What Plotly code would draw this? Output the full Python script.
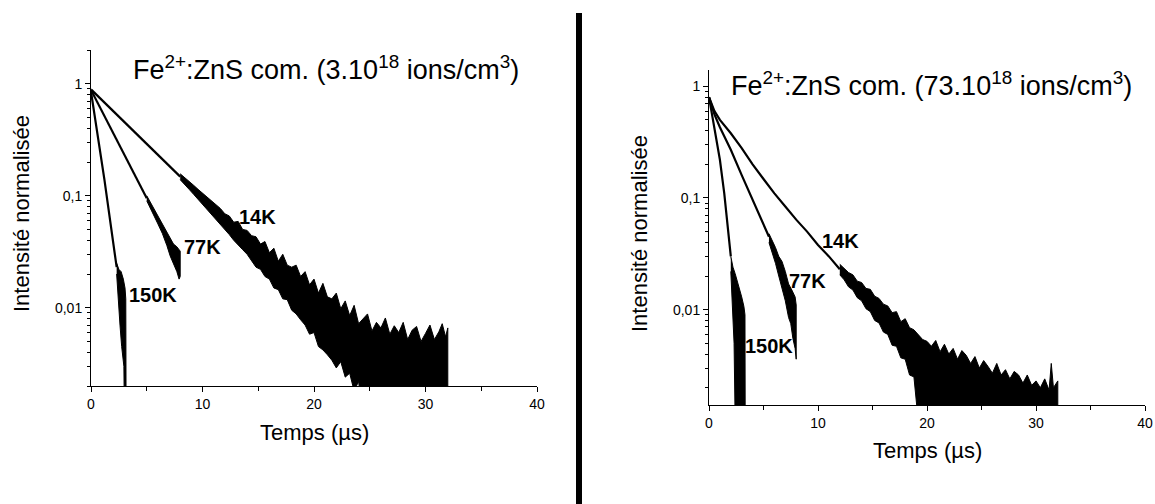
import numpy as np
import plotly.graph_objects as go

# ---------------- DATA ----------------
# Left panel : 3.10^18 ions/cm3  (time in µs, normalised intensity)
L14_T = [0, 4, 8]
L14_Y = [0.89, 0.36, 0.148]
L14_UP_T = [8.0, 8.4, 8.8, 9.2, 9.6, 10.0, 10.4, 10.8, 11.2, 11.6, 12.0, 12.4, 12.8, 13.2, 13.6, 14.0,
            14.4, 14.8, 15.2, 15.6, 16.0, 16.4, 16.8, 17.2, 17.6, 18.0, 18.4, 18.8, 19.2, 19.6, 20.0,
            20.4, 20.8, 21.2, 21.6, 22.0, 22.4, 22.8, 23.2, 23.6, 24.0, 24.4, 24.8, 25.2, 25.6, 26.0,
            26.4, 26.8, 27.2, 27.6, 28.0, 28.4, 28.8, 29.2, 29.6, 30.0, 30.4, 30.8, 31.2, 31.5, 31.8,
            32.0]
L14_UP_Y = [0.157, 0.146, 0.135, 0.124, 0.114, 0.105, 0.097, 0.090, 0.082, 0.077, 0.069, 0.066, 0.058,
            0.059, 0.050, 0.049, 0.044, 0.043, 0.037, 0.039, 0.031, 0.034, 0.026, 0.030, 0.024, 0.023,
            0.024, 0.019, 0.021, 0.016, 0.018, 0.0135, 0.0165, 0.0125, 0.012, 0.0135, 0.0098, 0.0115,
            0.0085, 0.0105, 0.0072, 0.0079, 0.0088, 0.0062, 0.0074, 0.0066, 0.0081, 0.0058, 0.0069,
            0.0060, 0.0074, 0.0052, 0.0063, 0.0068, 0.0050, 0.0059, 0.0070, 0.0052, 0.0061, 0.0072,
            0.0055, 0.0066]
L14_LO_T = [8.0, 8.4, 8.8, 9.2, 9.6, 10.0, 10.4, 10.8, 11.2, 11.6, 12.0, 12.4, 12.8, 13.2, 13.6, 14.0,
            14.4, 14.8, 15.2, 15.6, 16.0, 16.4, 16.8, 17.2, 17.6, 18.0, 18.4, 18.8, 19.2, 19.6, 20.0,
            20.4, 20.8, 21.2, 21.6, 22.0, 22.4, 22.8, 23.2, 23.6, 24.0, 24.4, 32.0]
L14_LO_Y = [0.139, 0.126, 0.114, 0.103, 0.093, 0.084, 0.076, 0.068, 0.062, 0.055, 0.050, 0.045, 0.040,
            0.036, 0.033, 0.030, 0.026, 0.023, 0.022, 0.019, 0.018, 0.015, 0.0145, 0.012, 0.0118,
            0.0095, 0.0088, 0.0078, 0.0070, 0.0058, 0.0060, 0.0045, 0.0042, 0.0038, 0.0034, 0.0029,
            0.0033, 0.0024, 0.0026, 0.0018, 0.0022, 0.0010, 0.0010]

L77_T = [0, 2.5, 5.0]
L77_Y = [0.88, 0.29, 0.095]
L77_UP_T = [5.0, 5.5, 6.0, 6.4, 6.8, 7.1, 7.4, 7.7, 8.0]
L77_UP_Y = [0.100, 0.081, 0.066, 0.056, 0.047, 0.042, 0.037, 0.035, 0.032]
L77_LO_T = [5.0, 5.5, 6.0, 6.4, 6.8, 7.1, 7.4, 7.7, 7.9, 8.0]
L77_LO_Y = [0.090, 0.071, 0.056, 0.046, 0.036, 0.029, 0.025, 0.021, 0.018, 0.019]

L150_T = [0, 1.2, 2.3]
L150_Y = [0.85, 0.14, 0.023]
L150_UP_T = [2.3, 2.5, 2.7, 2.9, 3.05, 3.12, 3.15]
L150_UP_Y = [0.025, 0.022, 0.021, 0.018, 0.015, 0.012, 0.001]
L150_LO_T = [2.3, 2.45, 2.6, 2.75, 2.85, 2.95, 3.0, 3.15]
L150_LO_Y = [0.020, 0.012, 0.007, 0.0045, 0.0036, 0.0030, 0.001, 0.001]

# Right panel : 73.10^18 ions/cm3
R14_T = [0, 0.5, 1, 2, 3, 4, 5, 6, 7, 8, 9, 10, 11, 12]
R14_Y = [0.8, 0.6, 0.5, 0.38, 0.28, 0.2, 0.148, 0.11, 0.084, 0.064, 0.05, 0.038, 0.03, 0.023]
R14_UP_T = [12.0, 12.4, 12.8, 13.2, 13.6, 14.0, 14.4, 14.8, 15.2, 15.6, 16.0, 16.4, 16.8, 17.2, 17.6,
            18.0, 18.4, 18.8, 19.2, 19.6, 20.0, 20.4, 20.8, 21.2, 21.6, 22.0, 22.4, 22.8, 23.2, 23.6,
            24.0, 24.4, 24.8, 25.2, 25.6, 26.0, 26.4, 26.8, 27.2, 27.6, 28.0, 28.4, 28.8, 29.2, 29.6,
            30.0, 30.4, 30.8, 31.2, 31.4, 31.6, 32.0]
R14_UP_Y = [0.0255, 0.0235, 0.0215, 0.0205, 0.018, 0.0175, 0.0155, 0.0152, 0.0132, 0.0126, 0.0112,
            0.0108, 0.0094, 0.0096, 0.0078, 0.0083, 0.0069, 0.0066, 0.0060, 0.0054, 0.0052, 0.0047,
            0.0053, 0.0042, 0.0049, 0.0040, 0.0045, 0.0036, 0.0043, 0.0039, 0.0033, 0.0038, 0.0030,
            0.0035, 0.0031, 0.0027, 0.0033, 0.0026, 0.0029, 0.0024, 0.0028, 0.0026, 0.0022, 0.0026,
            0.0021, 0.0023, 0.0020, 0.0024, 0.0019, 0.0033, 0.0020, 0.0023]
R14_LO_T = [12.0, 12.4, 12.8, 13.2, 13.6, 14.0, 14.4, 14.8, 15.2, 15.6, 16.0, 16.4, 16.8, 17.2, 17.6,
            18.0, 18.4, 18.8, 19.2, 32.0]
R14_LO_Y = [0.0205, 0.0185, 0.0160, 0.0150, 0.0128, 0.0120, 0.0102, 0.0096, 0.0080, 0.0076, 0.0063,
            0.0060, 0.0048, 0.0047, 0.0037, 0.0036, 0.0026, 0.0025, 0.0010, 0.0010]

R77_T = [0, 0.5, 1, 1.5, 2, 3, 4, 5, 5.5]
R77_Y = [0.8, 0.56, 0.43, 0.34, 0.27, 0.16, 0.095, 0.058, 0.045]
R77_UP_T = [5.5, 5.8, 6.1, 6.4, 6.7, 7.0, 7.3, 7.6, 7.9, 8.0]
R77_UP_Y = [0.048, 0.042, 0.036, 0.030, 0.027, 0.022, 0.017, 0.015, 0.013, 0.011]
R77_LO_T = [5.5, 5.8, 6.1, 6.4, 6.7, 7.0, 7.3, 7.5, 7.7, 7.9, 8.0]
R77_LO_Y = [0.040, 0.032, 0.026, 0.020, 0.016, 0.012, 0.0085, 0.0075, 0.0055, 0.0045, 0.0036]

R150_T = [0, 0.3, 0.7, 1.0, 1.4, 1.7, 2.0]
R150_Y = [0.8, 0.55, 0.34, 0.22, 0.11, 0.058, 0.03]
R150_UP_T = [2.0, 2.2, 2.4, 2.6, 2.8, 3.0, 3.2, 3.3, 3.32]
R150_UP_Y = [0.03, 0.024, 0.021, 0.018, 0.015, 0.013, 0.0107, 0.009, 0.001]
R150_LO_T = [2.0, 2.1, 2.2, 2.3, 2.4, 3.32]
R150_LO_Y = [0.022, 0.012, 0.0076, 0.005, 0.001, 0.001]

# Curve labels: (text, x, y)
LABELS_L = [("14K", 14.9, 0.065), ("77K", 10.0, 0.035), ("150K", 5.6, 0.013)]
LABELS_R = [("14K", 12.1, 0.041), ("77K", 9.0, 0.018), ("150K", 5.5, 0.0047)]

TITLE_L = "Fe<sup>2+</sup>:ZnS com. (3.10<sup>18</sup> ions/cm<sup>3</sup>)"
TITLE_R = "Fe<sup>2+</sup>:ZnS com. (73.10<sup>18</sup> ions/cm<sup>3</sup>)"
Y_TITLE = "Intensité normalisée"
X_TITLE = "Temps (µs)"
X_TICKS = [0, 10, 20, 30, 40]
X_MINOR = [5, 15, 25, 35]
Y_TICKS = [0.01, 0.1, 1]
Y_TICKTEXT = ["0,01", "0,1", "1"]

# ---------------- FIGURE ----------------
W, H = 1155, 504
FONT = "Arial, 'Liberation Sans', sans-serif"


def fx(p):
    return p / W


def fy(p):
    return 1 - p / H


fig = go.Figure()


def add_curve(t, y, up_t, up_y, lo_t, lo_y, xa, ya):
    fig.add_trace(go.Scatter(x=t, y=y, mode="lines", line=dict(color="black", width=2.2),
                             xaxis=xa, yaxis=ya, showlegend=False, hoverinfo="skip"))
    fig.add_trace(go.Scatter(x=list(up_t) + list(lo_t)[::-1], y=list(up_y) + list(lo_y)[::-1],
                             mode="lines", fill="toself", fillcolor="black",
                             line=dict(color="black", width=1),
                             xaxis=xa, yaxis=ya, showlegend=False, hoverinfo="skip"))


add_curve(L14_T, L14_Y, L14_UP_T, L14_UP_Y, L14_LO_T, L14_LO_Y, "x", "y")
add_curve(L77_T, L77_Y, L77_UP_T, L77_UP_Y, L77_LO_T, L77_LO_Y, "x", "y")
add_curve(L150_T, L150_Y, L150_UP_T, L150_UP_Y, L150_LO_T, L150_LO_Y, "x", "y")
add_curve(R14_T, R14_Y, R14_UP_T, R14_UP_Y, R14_LO_T, R14_LO_Y, "x2", "y2")
add_curve(R77_T, R77_Y, R77_UP_T, R77_UP_Y, R77_LO_T, R77_LO_Y, "x2", "y2")
add_curve(R150_T, R150_Y, R150_UP_T, R150_UP_Y, R150_LO_T, R150_LO_Y, "x2", "y2")

minor_y = [m * 10.0 ** e for e in range(-4, 1) for m in range(2, 10)]

xcommon = dict(range=[0, 40], tickvals=X_TICKS, ticks="outside", ticklen=5, tickwidth=1,
               tickcolor="black", showline=True, linecolor="black", linewidth=1, showgrid=False,
               zeroline=False, tickfont=dict(family=FONT, size=14, color="black"),
               minor=dict(tickvals=X_MINOR, ticks="outside", ticklen=4, tickcolor="black",
                          showgrid=False))
ycommon = dict(type="log", tickvals=Y_TICKS, ticktext=Y_TICKTEXT, ticks="outside", ticklen=5,
               tickwidth=1, tickcolor="black", showline=True, linecolor="black", linewidth=1,
               showgrid=False, zeroline=False, tickfont=dict(family=FONT, size=14, color="black"),
               minor=dict(tickvals=minor_y, ticks="outside", ticklen=3, tickcolor="black",
                          showgrid=False))

fig.update_layout(
    width=W, height=H, margin=dict(l=0, r=0, t=0, b=0, autoexpand=False),
    paper_bgcolor="white", plot_bgcolor="white",
    xaxis=dict(domain=[fx(91), fx(537)], anchor="y", **xcommon),
    yaxis=dict(domain=[fy(386), fy(50)], anchor="x",
               range=[np.log10(0.002), np.log10(2)], **ycommon),
    xaxis2=dict(domain=[fx(709), fx(1145)], anchor="y2", **xcommon),
    yaxis2=dict(domain=[fy(405), fy(70)], anchor="x2",
                range=[np.log10(0.0014), np.log10(1.4)], **ycommon),
    showlegend=False,
)

ann = []
for (txt, x, y) in LABELS_L:
    ann.append(dict(text="<b>%s</b>" % txt, x=x, y=np.log10(y), xref="x", yref="y",
                    xanchor="center", yanchor="middle",
                    showarrow=False, font=dict(family=FONT, size=20, color="black")))
for (txt, x, y) in LABELS_R:
    ann.append(dict(text="<b>%s</b>" % txt, x=x, y=np.log10(y), xref="x2", yref="y2",
                    xanchor="center", yanchor="middle",
                    showarrow=False, font=dict(family=FONT, size=20, color="black")))


def pann(text, x, y, size, angle=0):
    return dict(text=text, x=fx(x), y=fy(y), xref="paper", yref="paper", showarrow=False,
                xanchor="center", yanchor="middle", textangle=angle,
                font=dict(family=FONT, size=size, color="black"))


ann += [
    pann(TITLE_L, 326, 68, 27),
    pann(TITLE_R, 931, 84, 27),
    pann(Y_TITLE, 21, 214, 22, -90),
    pann(Y_TITLE, 639, 234, 22, -90),
    pann(X_TITLE, 314, 432, 22),
    pann(X_TITLE, 927, 450, 22),
]
fig.update_layout(annotations=ann)

fig.add_shape(type="line", xref="paper", yref="paper", x0=fx(579), x1=fx(579),
              y0=0, y1=fy(13), line=dict(color="black", width=6))

fig.write_html("out.html",
               config={"displayModeBar": False, "staticPlot": True},
               post_script="document.body.style.margin='0px';"
                           "document.body.style.overflow='hidden';")
